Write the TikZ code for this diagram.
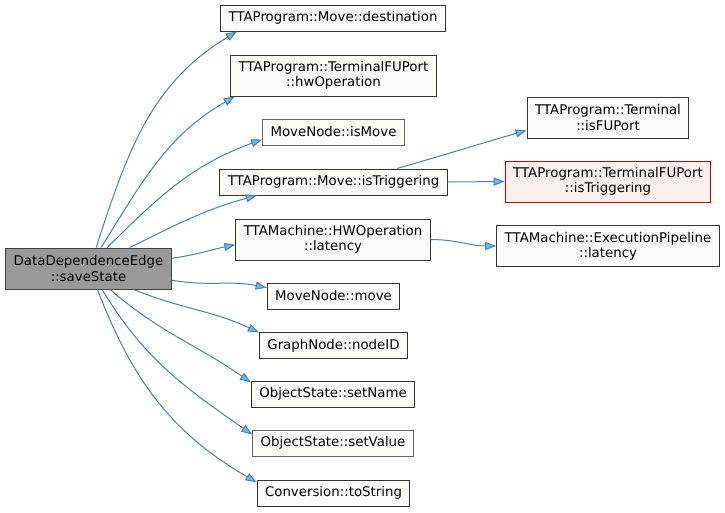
\documentclass[tikz,border=0pt]{standalone}
\usepackage{fontspec}
\setmainfont{DejaVu Sans}
\usetikzlibrary{arrows.meta}

\definecolor{edgeblue}{HTML}{4682B4}
\definecolor{tipblue}{HTML}{63B8FF}
\definecolor{boxfill}{HTML}{FBFCF8}
\definecolor{rootfill}{HTML}{999999}
\definecolor{hotfill}{HTML}{FFF0F0}
\definecolor{hotline}{HTML}{CC0000}

\tikzset{
  fn/.style={draw=black!80, fill=boxfill, line width=0.75pt, inner xsep=6pt,
    inner ysep=2pt, minimum height=19.5pt, align=center,
    font=\fontsize{10}{11.5}\selectfont},
  two/.style={minimum height=30.75pt},
  pale/.style={draw=black!60},
  hot/.style={draw=hotline, fill=hotfill},
  call/.style={draw=edgeblue, line width=0.75pt,
    -{Triangle[length=8.25pt,width=6pt,fill=tipblue]}}
}

\begin{document}
\begin{tikzpicture}[x=0.75pt,y=0.75pt]
 \useasboundingbox (0,0) rectangle (725,-512);
 % caller
 \node[fn,two,fill=rootfill,draw=black!75] (root) at (88.5,-268.5) {DataDependenceEdge\\::saveState};
 % direct callees
 \node[fn] (dest) at (333,-18) {TTAProgram::Move::destination};
 \node[fn,two] (hwop) at (333.5,-75.5) {TTAProgram::TerminalFUPort\\::hwOperation};
 \node[fn,pale] (ismove) at (333.5,-132) {MoveNode::isMove};
 \node[fn] (istrig) at (333.5,-182) {TTAProgram::Move::isTriggering};
 \node[fn,two] (hwlat) at (333,-239.5) {TTAMachine::HWOperation\\::latency};
 \node[fn] (move) at (333.5,-296) {MoveNode::move};
 \node[fn] (nodeid) at (333.5,-345.5) {GraphNode::nodeID};
 \node[fn] (setname) at (333,-394) {ObjectState::setName};
 \node[fn,pale] (setvalue) at (333,-443) {ObjectState::setValue};
 \node[fn] (tostr) at (333.5,-493) {Conversion::toString};
 % second level
 \node[fn,two] (isfuport) at (608,-117.5) {TTAProgram::Terminal\\::isFUPort};
 \node[fn,two,hot] (fptrig) at (608,-181.5) {TTAProgram::TerminalFUPort\\::isTriggering};
 \node[fn,two] (eplat) at (608,-246) {TTAMachine::ExecutionPipeline\\::latency};

 \foreach \t/\a/\o/\b/\i in {dest/70/72/188/211, hwop/59/58/192/210,
   ismove/48/45/186/200, istrig/27/26/190/195, hwlat/7/8/183/192,
   move/-8/-10/173/168, nodeid/-25/-22/170/155, setname/-44/-41/172/145,
   setvalue/-57/-59/174/145, tostr/-67/-69/172/150}
   \draw[call] (root.\a) to[out=\o,in=\i] (\t.\b);

 \draw[call] (istrig.12) to[out=16,in=196] (isfuport.189);
 \draw[call] (istrig.east) -- (fptrig.west);
 \draw[call] (hwlat.east) to[out=0,in=180] (eplat.west);
\end{tikzpicture}
\end{document}
